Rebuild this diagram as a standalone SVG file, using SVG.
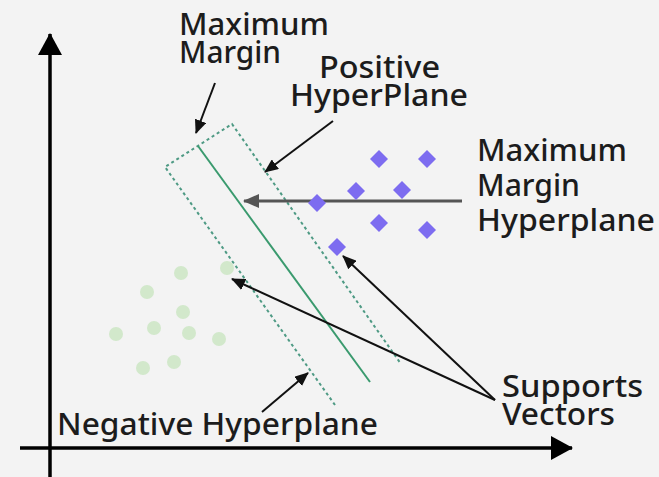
<svg xmlns="http://www.w3.org/2000/svg" width="659" height="477" viewBox="0 0 659 477">
<style>
.lbl{font-family:"Noto Sans","Open Sans",sans-serif;font-size:30px;font-weight:500;fill:#1c1c1c}
.ptr{stroke:#111;stroke-width:2;fill:none}
.dia{fill:#7d6cf0}
.dot{fill:#d2e8cb}
</style>
<defs>
<marker id="ah" markerUnits="userSpaceOnUse" markerWidth="14" markerHeight="12" refX="13" refY="6" orient="auto"><path d="M0,0 L14,6 L0,12 Z" fill="#111"/></marker>
<marker id="ahg" markerUnits="userSpaceOnUse" markerWidth="16" markerHeight="14" refX="15" refY="7" orient="auto"><path d="M0,0 L16,7 L0,14 Z" fill="#555"/></marker>
<marker id="big" markerUnits="userSpaceOnUse" markerWidth="22" markerHeight="24" refX="21" refY="12" orient="auto"><path d="M0,0 L22,12 L0,24 Z" fill="#000"/></marker>
</defs>
<rect width="659" height="477" fill="#f3f3f3"/>
<g id="axes">
<line x1="50" y1="477" x2="50" y2="34" stroke="#000" stroke-width="3.5" marker-end="url(#big)"/>
<line x1="20" y1="448" x2="572" y2="448" stroke="#000" stroke-width="3.5" marker-end="url(#big)"/>
</g>
<g id="margin">
<path d="M335,405 L165,167 L232,124 L401,364" fill="none" stroke="#4e9a84" stroke-width="2" stroke-dasharray="3,3"/>
<line x1="198" y1="146" x2="370" y2="382" stroke="#3a9a6e" stroke-width="2"/>
</g>
<g id="negatives">
<circle class="dot" cx="181" cy="273" r="7"/>
<circle class="dot" cx="147" cy="292" r="7"/>
<circle class="dot" cx="183" cy="312" r="7"/>
<circle class="dot" cx="154" cy="328" r="7"/>
<circle class="dot" cx="189" cy="333" r="7"/>
<circle class="dot" cx="116" cy="334" r="7"/>
<circle class="dot" cx="219" cy="339" r="7"/>
<circle class="dot" cx="174" cy="362" r="7"/>
<circle class="dot" cx="143" cy="368" r="7"/>
<circle class="dot" cx="227" cy="268" r="7"/>
</g>
<g id="connectors">
<line x1="462" y1="201" x2="244" y2="201" stroke="#555" stroke-width="3" marker-end="url(#ahg)"/>
<line class="ptr" x1="215" y1="83" x2="196" y2="133" marker-end="url(#ah)"/>
<line class="ptr" x1="333" y1="121" x2="265" y2="172" marker-end="url(#ah)"/>
<line class="ptr" x1="262" y1="412" x2="308" y2="373" marker-end="url(#ah)"/>
<line class="ptr" x1="495" y1="400" x2="232" y2="279" marker-end="url(#ah)"/>
<line class="ptr" x1="495" y1="400" x2="343" y2="256" marker-end="url(#ah)"/>
</g>
<g id="positives">
<path class="dia" d="M379,150 l9,9 l-9,9 l-9,-9 Z"/>
<path class="dia" d="M427,150 l9,9 l-9,9 l-9,-9 Z"/>
<path class="dia" d="M356,182 l9,9 l-9,9 l-9,-9 Z"/>
<path class="dia" d="M402,181 l9,9 l-9,9 l-9,-9 Z"/>
<path class="dia" d="M317,194 l9,9 l-9,9 l-9,-9 Z"/>
<path class="dia" d="M379,214 l9,9 l-9,9 l-9,-9 Z"/>
<path class="dia" d="M427,221 l9,9 l-9,9 l-9,-9 Z"/>
<path class="dia" d="M337,238 l9,9 l-9,9 l-9,-9 Z"/>
</g>
<g id="label-max-margin"><text class="lbl" x="179" y="35" textLength="150" lengthAdjust="spacingAndGlyphs">Maximum</text><text class="lbl" x="179" y="63" textLength="102" lengthAdjust="spacingAndGlyphs">Margin</text></g>
<g id="label-positive"><text class="lbl" x="319" y="78" textLength="121" lengthAdjust="spacingAndGlyphs">Positive</text><text class="lbl" x="290" y="106" textLength="178" lengthAdjust="spacingAndGlyphs">HyperPlane</text></g>
<g id="label-mmh"><text class="lbl" x="477" y="161" textLength="150" lengthAdjust="spacingAndGlyphs">Maximum</text><text class="lbl" x="477" y="196" textLength="103" lengthAdjust="spacingAndGlyphs">Margin</text><text class="lbl" x="477" y="231" textLength="178" lengthAdjust="spacingAndGlyphs">Hyperplane</text></g>
<g id="label-support"><text class="lbl" x="502" y="397" textLength="141" lengthAdjust="spacingAndGlyphs">Supports</text><text class="lbl" x="502" y="425" textLength="113" lengthAdjust="spacingAndGlyphs">Vectors</text></g>
<g id="label-negative"><text class="lbl" x="57" y="435" textLength="321" lengthAdjust="spacingAndGlyphs">Negative Hyperplane</text></g>
</svg>
